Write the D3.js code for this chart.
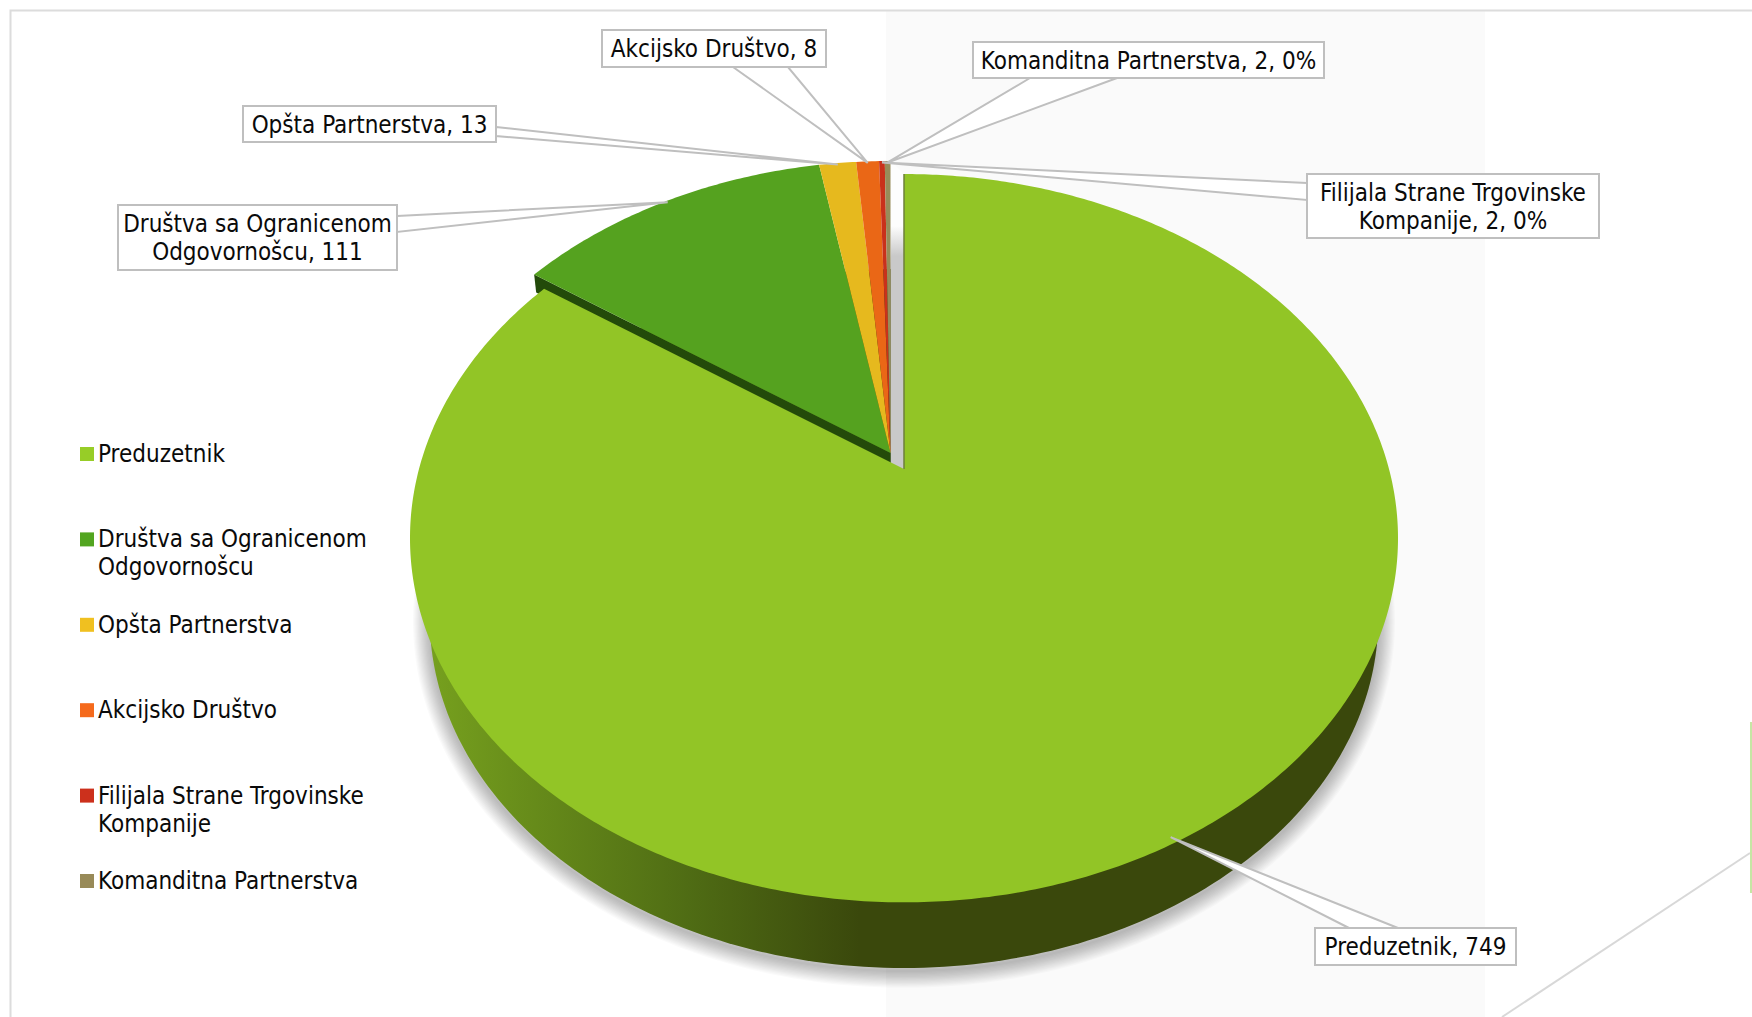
<!DOCTYPE html>
<html>
<head>
<meta charset="utf-8">
<script src="https://cdnjs.cloudflare.com/ajax/libs/d3/7.8.5/d3.min.js"></script>
<style>
  html, body { margin: 0; padding: 0; background: #fff; overflow: hidden; }
  text { font-family: "DejaVu Sans Condensed", "DejaVu Sans", sans-serif; font-size: 24px; fill: #0a0a0a; }
</style>
</head>
<body>
<script>
var categories = ['Preduzetnik', 'Društva sa Ogranicenom Odgovornošcu', 'Opšta Partnerstva',
  'Akcijsko Društvo', 'Filijala Strane Trgovinske Kompanije', 'Komanditna Partnerstva'];
var values = [749, 111, 13, 8, 2, 2];
var labelSuffix = ['', '', '', '', ', 0%', ', 0%'];
var sliceColors = ['#92c526', '#55a21f', '#e6b91e', '#ea6716', '#c9311b', '#978c5a'];
var legendColors = ['#97cd27', '#52a520', '#f0c020', '#f56a1c', '#cc301c', '#988a58'];
// where long names break, in the legend and in the callouts
var nameBreaks = [0, 22, 0, 0, 26, 0];

var width = 1752, height = 1017;

// callout boxes: [x0, y0, x1, y1], then the two points where the pointer leaves the box
var boxes = [
  { box: [1315, 928, 1516, 965], base: [[1349, 928], [1398, 928]] },
  { box: [118, 205, 397, 270], base: [[397, 216], [397, 232]] },
  { box: [243, 106, 496, 142], base: [[496, 127], [496, 136]] },
  { box: [602, 30, 826, 67], base: [[733, 67], [788, 67]] },
  { box: [1307, 174, 1599, 238], base: [[1307, 183], [1307, 200]] },
  { box: [973, 42, 1324, 78], base: [[1030, 78], [1117, 78]] }
];

// tilted disc, the near side looks bigger so the centre is not the middle of the ellipse
var persp = 0.19, discW = 485, discH = 351;
var apexBig = [904, 469], apexRest = [890.5, 453], apexBottom = [904, 552];
var restScale = 0.99, bottomScale = 0.96, wallDark = 18;

function project(a, apex, s) {
  var u = Math.sin(a), v = Math.cos(a), w = 1 + persp * v;
  return [apex[0] + s * discW * u / w, apex[1] - s * discH * v / w];
}

var line = d3.line();

function wedge(a0, a1, apex, s) {
  var n = Math.max(2, Math.ceil((a1 - a0) / 0.01));
  var pts = d3.range(n + 1).map(function (i) {
    return project(a0 + (a1 - a0) * i / n, apex, s);
  });
  return line([apex].concat(pts)) + 'Z';
}

var arcs = d3.pie().sort(null).value(function (d) { return d; })(values);
var svg = d3.select('body').append('svg')
  .attr('width', width)
  .attr('height', height)
  .style('display', 'block');

var defs = svg.append('defs');

var wallGrad = defs.append('linearGradient').attr('id', 'wall')
  .attr('gradientUnits', 'userSpaceOnUse')
  .attr('x1', 430).attr('x2', 860).attr('y1', 0).attr('y2', 0);
wallGrad.append('stop').attr('offset', 0).attr('stop-color', '#76a01e');
wallGrad.append('stop').attr('offset', 0.6).attr('stop-color', '#4f6c14');
wallGrad.append('stop').attr('offset', 1).attr('stop-color', '#3a480c');

var gapGrad = defs.append('linearGradient').attr('id', 'gap')
  .attr('gradientUnits', 'userSpaceOnUse')
  .attr('x1', 0).attr('x2', 0).attr('y1', 226).attr('y2', 256);
gapGrad.append('stop').attr('offset', 0).attr('stop-color', '#fdfdfd');
gapGrad.append('stop').attr('offset', 1).attr('stop-color', '#c9c9c9');

// page background and frame
svg.append('rect').attr('x', 886).attr('y', 11).attr('width', 599).attr('height', height).attr('fill', '#fafafa');
svg.append('path').attr('d', 'M10.5,1017V10.5H1752').attr('fill', 'none').attr('stroke', '#dcdcdc').attr('stroke-width', 2);
svg.append('path').attr('d', 'M1750,853L1502,1017').attr('fill', 'none').attr('stroke', '#d8d8d8').attr('stroke-width', 2);
svg.append('rect').attr('x', 1750).attr('y', 722).attr('width', 2).attr('height', 171).attr('fill', '#c6e6a4');

// side of the disc with its soft shadow, the shadow is stacked see-through outlines
var bottomPts = d3.range(361).map(function (i) {
  return project(i * Math.PI / 180, apexBottom, bottomScale);
});
svg.append('g').selectAll('path')
  .data(d3.range(1, 15))
  .join('path')
  .attr('d', line(bottomPts.map(function (p) { return [p[0], p[1] + 3]; })) + 'Z')
  .attr('fill', 'none')
  .attr('stroke', '#000')
  .attr('stroke-opacity', 0.018)
  .attr('stroke-width', function (k) { return k * 2.4; });
svg.append('path').attr('d', line(bottomPts) + 'Z').attr('fill', 'url(#wall)');

// gap left by the pulled out slice
var a0 = arcs[0].startAngle, a1 = arcs[0].endAngle, full = 2 * Math.PI;
var topRest = project(full, apexRest, restScale), topBig = project(a0, apexBig, 1);
var cornerRest = project(a1, apexRest, restScale);
svg.append('path')
  .attr('d', line([topRest, topBig, apexBig, [apexRest[0], apexRest[1] + wallDark]]) + 'Z')
  .attr('fill', 'url(#gap)');
svg.append('path')
  .attr('d', line([cornerRest, apexRest, [apexRest[0], apexRest[1] + wallDark], [cornerRest[0] + 2, cornerRest[1] + wallDark]]) + 'Z')
  .attr('fill', '#234a0a');

// top faces
svg.append('g').selectAll('path')
  .data(arcs)
  .join('path')
  .attr('d', function (d, i) {
    return i === 0 ? wedge(d.startAngle, d.endAngle, apexBig, 1) : wedge(d.startAngle, d.endAngle, apexRest, restScale);
  })
  .attr('fill', function (d, i) { return sliceColors[i]; });
svg.append('path').attr('d', line([topBig, apexBig]))
  .attr('stroke', '#6d7f3a').attr('stroke-width', 1.5).attr('fill', 'none');

function splitName(name, at) {
  return at ? [name.slice(0, at), name.slice(at + 1)] : [name];
}

// legend
var legendY = d3.scaleLinear().domain([0, categories.length - 1]).range([447, 874]);
var legend = svg.append('g').selectAll('g')
  .data(categories)
  .join('g')
  .attr('transform', function (d, i) { return 'translate(80,' + legendY(i) + ')'; });
legend.append('rect').attr('width', 14).attr('height', 14)
  .attr('fill', function (d, i) { return legendColors[i]; });
legend.each(function (d, i) {
  d3.select(this).selectAll('text')
    .data(splitName(d, nameBreaks[i]))
    .join('text')
    .attr('x', 18)
    .attr('y', function (t, j) { return 15 + j * 28; })
    .text(function (t) { return t; });
});

// callouts
var callouts = svg.append('g').selectAll('g')
  .data(arcs)
  .join('g');
callouts.append('path')
  .attr('d', function (d, i) {
    var tip = project((d.startAngle + d.endAngle) / 2, i === 0 ? apexBig : apexRest, 0.985);
    return line([boxes[i].base[0], tip, boxes[i].base[1]]) + 'Z';
  })
  .attr('fill', '#fff')
  .attr('stroke', '#bfbfbf')
  .attr('stroke-width', 2);
callouts.append('rect')
  .attr('x', function (d, i) { return boxes[i].box[0]; })
  .attr('y', function (d, i) { return boxes[i].box[1]; })
  .attr('width', function (d, i) { return boxes[i].box[2] - boxes[i].box[0]; })
  .attr('height', function (d, i) { return boxes[i].box[3] - boxes[i].box[1]; })
  .attr('fill', '#fff')
  .attr('stroke', '#bfbfbf')
  .attr('stroke-width', 2);
callouts.each(function (d, i) {
  var b = boxes[i].box;
  var label = categories[i] + ', ' + d.data + labelSuffix[i];
  d3.select(this).selectAll('text')
    .data(splitName(label, nameBreaks[i]))
    .join('text')
    .attr('text-anchor', 'middle')
    .attr('x', (b[0] + b[2]) / 2)
    .attr('y', function (t, j) { return b[1] + 27 + j * 28; })
    .text(function (t) { return t; });
});
</script>
</body>
</html>
